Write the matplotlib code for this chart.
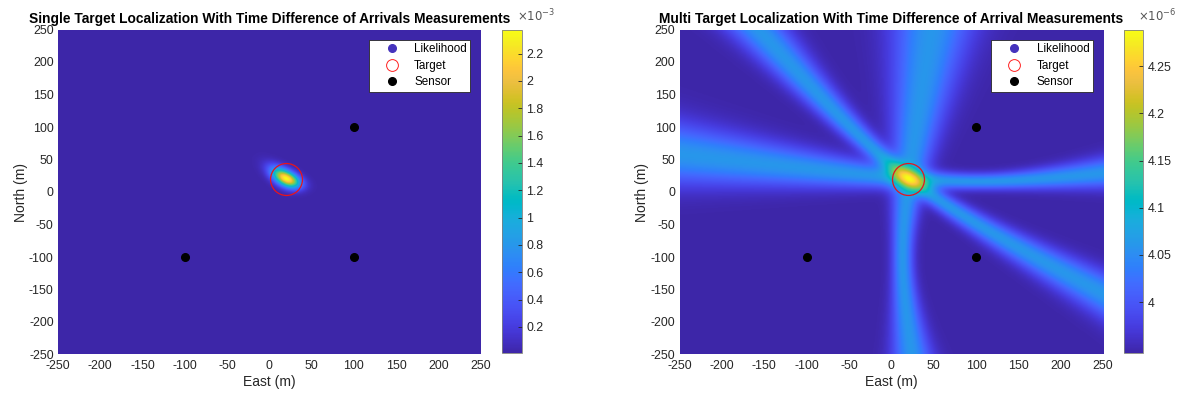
import numpy as np
import matplotlib
matplotlib.use("Agg")
import matplotlib.pyplot as plt
from matplotlib.colors import LinearSegmentedColormap
from matplotlib.lines import Line2D

plt.rcParams['font.family'] = ['Liberation Sans', 'DejaVu Sans']
plt.rcParams['axes.unicode_minus'] = False

# ---------------- data ----------------
sensor_east = [-100, 100, 100]
sensor_north = [-100, -100, 100]
target_east = [20]
target_north = [20]
tdoa_pairs = [(0, 1), (1, 2), (0, 2)]
sigma_single = 18.0      # m (range-difference noise)
sigma_multi = 17.0
single_clim = [0.0095e-3, 2.376e-3]
multi_clim = [3.946e-6, 4.289e-6]
xticks = list(range(-250, 251, 50))
yticks = list(range(-250, 251, 50))
single_cticks = [0.2e-3, 0.4e-3, 0.6e-3, 0.8e-3, 1.0e-3, 1.2e-3, 1.4e-3, 1.6e-3, 1.8e-3, 2.0e-3, 2.2e-3]
single_cticklabels = ['0.2', '0.4', '0.6', '0.8', '1', '1.2', '1.4', '1.6', '1.8', '2', '2.2']
multi_cticks = [4.0e-6, 4.05e-6, 4.1e-6, 4.15e-6, 4.2e-6, 4.25e-6]
multi_cticklabels = ['4', '4.05', '4.1', '4.15', '4.2', '4.25']
titles = ["Single Target Localization With Time Difference of Arrivals Measurements",
          "Multi Target Localization With Time Difference of Arrival Measurements"]
exponents = [r"$\times10^{-3}$", r"$\times10^{-6}$"]

# parula colormap anchors
parula_pts = [
    (0.2422, 0.1504, 0.6603), (0.2504, 0.1650, 0.7076), (0.2578, 0.1818, 0.7511),
    (0.2647, 0.1978, 0.7952), (0.2706, 0.2147, 0.8364), (0.2751, 0.2342, 0.8710),
    (0.2783, 0.2559, 0.8991), (0.2803, 0.2782, 0.9221), (0.2813, 0.3006, 0.9414),
    (0.2810, 0.3228, 0.9579), (0.2795, 0.3447, 0.9717), (0.2760, 0.3667, 0.9829),
    (0.2699, 0.3892, 0.9906), (0.2602, 0.4123, 0.9952), (0.2440, 0.4358, 0.9988),
    (0.2206, 0.4603, 0.9973), (0.1963, 0.4847, 0.9892), (0.1834, 0.5074, 0.9798),
    (0.1786, 0.5289, 0.9682), (0.1764, 0.5499, 0.9520), (0.1687, 0.5703, 0.9359),
    (0.1540, 0.5902, 0.9218), (0.1460, 0.6091, 0.9079), (0.1380, 0.6276, 0.8973),
    (0.1248, 0.6459, 0.8883), (0.1113, 0.6635, 0.8763), (0.0952, 0.6798, 0.8598),
    (0.0689, 0.6948, 0.8394), (0.0297, 0.7082, 0.8163), (0.0036, 0.7203, 0.7917),
    (0.0067, 0.7312, 0.7660), (0.0433, 0.7411, 0.7394), (0.0964, 0.7500, 0.7120),
    (0.1408, 0.7584, 0.6842), (0.1717, 0.7670, 0.6554), (0.1938, 0.7758, 0.6251),
    (0.2161, 0.7849, 0.5923), (0.2470, 0.7912, 0.5567), (0.2906, 0.7958, 0.5188),
    (0.3406, 0.7980, 0.4789), (0.3909, 0.7987, 0.4371), (0.4453, 0.7972, 0.3982),
    (0.4962, 0.7941, 0.3564), (0.5425, 0.7906, 0.3150), (0.5876, 0.7861, 0.2747),
    (0.6330, 0.7810, 0.2368), (0.6766, 0.7758, 0.2011), (0.7158, 0.7711, 0.1708),
    (0.7587, 0.7662, 0.1468), (0.7998, 0.7610, 0.1386), (0.8385, 0.7552, 0.1578),
    (0.8729, 0.7501, 0.1927), (0.9027, 0.7480, 0.2278), (0.9293, 0.7507, 0.2526),
    (0.9561, 0.7586, 0.2496), (0.9826, 0.7665, 0.2369), (0.9934, 0.7922, 0.2147),
    (0.9954, 0.8207, 0.1934), (0.9887, 0.8509, 0.1756), (0.9762, 0.8819, 0.1565),
    (0.9639, 0.9120, 0.1390), (0.9624, 0.9395, 0.1229), (0.9680, 0.9656, 0.1006),
    (0.9769, 0.9839, 0.0805)]
parula = LinearSegmentedColormap.from_list("parula", parula_pts, N=256)

# ---------------- likelihood maps ----------------
grid = np.linspace(-250, 250, 501)
E, N = np.meshgrid(grid, grid)
sx = np.array(sensor_east, float)
sy = np.array(sensor_north, float)
tx, ty = target_east[0], target_north[0]
dist = [np.hypot(E - sx[k], N - sy[k]) for k in range(len(sx))]
dist_t = [np.hypot(tx - sx[k], ty - sy[k]) for k in range(len(sx))]

resid_single = np.zeros_like(E)
band_sum = np.zeros_like(E)
for i, j in tdoa_pairs:
    r = (dist[i] - dist[j]) - (dist_t[i] - dist_t[j])
    resid_single += r ** 2
    band_sum += np.exp(-0.5 * r ** 2 / sigma_multi ** 2)
g_single = np.exp(-0.5 * resid_single / sigma_single ** 2)
L_single = single_clim[0] + (single_clim[1] - single_clim[0]) * g_single
L_multi = multi_clim[0] + (multi_clim[1] - multi_clim[0]) * band_sum / len(tdoa_pairs)

# ---------------- figure ----------------
W, H = 1180, 397
fig = plt.figure(figsize=(W / 100, H / 100), dpi=100)

def fx(px):
    return px / W

def fy(py):
    return 1 - py / H

ax_pos = [(57.9, 480.5), (679.6, 1103.0)]
cb_pos = [(502.0, 522.0), (1124.3, 1143.3)]
ytop, ybot = 29.5, 354.5
cbtop, cbbot = 29.5, 353.0
maps = [L_single, L_multi]
clims = [single_clim, multi_clim]
cticks = [single_cticks, multi_cticks]
ctlabels = [single_cticklabels, multi_cticklabels]
label_color = '#262626'

for k in range(2):
    x0, x1 = ax_pos[k]
    ax = fig.add_axes([fx(x0), fy(ybot), fx(x1 - x0), (ybot - ytop) / H])
    im = ax.imshow(maps[k], origin='lower', extent=[-250, 250, -250, 250],
                   cmap=parula, vmin=clims[k][0], vmax=clims[k][1],
                   aspect='auto', interpolation='bilinear')
    ax.plot(sensor_east, sensor_north, 'o', color='black', markersize=5.5,
            linestyle='none')
    ax.plot(target_east, target_north, 'o', markerfacecolor='none',
            markeredgecolor='#e8141c', markeredgewidth=0.9, markersize=23,
            linestyle='none')
    ax.set_xlim(-250, 250)
    ax.set_ylim(-250, 250)
    ax.set_xticks(xticks)
    ax.set_yticks(yticks)
    ax.tick_params(length=0, labelsize=8.9, colors=label_color, pad=3)
    ax.tick_params(axis='x', pad=4)
    for s in ax.spines.values():
        s.set_visible(False)
    ax.set_xlabel("East (m)", fontsize=10, color=label_color, labelpad=2)
    ax.set_ylabel("North (m)", fontsize=10, color=label_color, labelpad=1)
    ax.set_title(titles[k], fontsize=9.9, fontweight='bold', color='black', pad=5)

    handles = [
        Line2D([], [], marker='o', linestyle='none', color=(0.27, 0.2, 0.74), markersize=5.5),
        Line2D([], [], marker='o', linestyle='none', markerfacecolor='none',
               markeredgecolor='#ff2020', markeredgewidth=0.7, markersize=8.5),
        Line2D([], [], marker='o', linestyle='none', color='black', markersize=5.5),
    ]
    leg = ax.legend(handles, ["Likelihood", "Target", "Sensor"], loc='upper right',
                    bbox_to_anchor=(0.976, 0.968), borderaxespad=0, fontsize=8.4,
                    frameon=True, fancybox=False, framealpha=1, edgecolor='#262626',
                    handletextpad=0.2, labelspacing=0.38, borderpad=0.3,
                    handlelength=3.4)
    leg.get_frame().set_linewidth(0.6)
    for t in leg.get_texts():
        t.set_color('black')

    c0, c1 = cb_pos[k]
    cax = fig.add_axes([fx(c0), fy(cbbot), fx(c1 - c0), (cbbot - cbtop) / H])
    cb = fig.colorbar(im, cax=cax)
    cb.set_ticks(cticks[k])
    cb.set_ticklabels(ctlabels[k])
    cax.tick_params(direction='in', length=3, width=0.6, labelsize=8.9,
                    colors=label_color, pad=3)
    cb.outline.set_linewidth(0.6)
    cb.outline.set_edgecolor('#7f7f7f')
    fig.text(fx(c1 - 5), fy(16), exponents[k], fontsize=8.4, color='#555555',
             ha='left', va='center')

fig.savefig("out.png", dpi=100)
